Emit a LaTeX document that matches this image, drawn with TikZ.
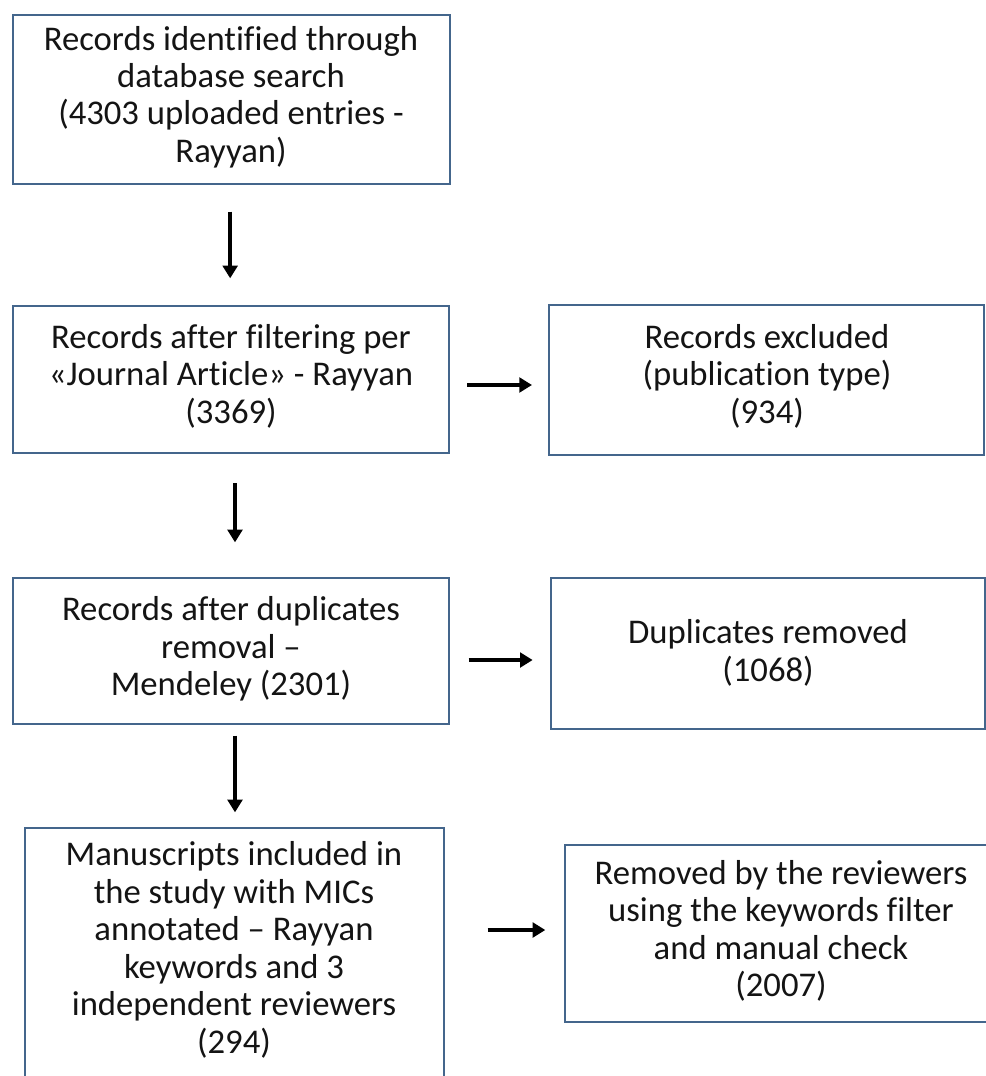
\documentclass[tikz,border=0pt]{standalone}
\usepackage{fontspec}
\setmainfont{Carlito}[Ligatures={NoCommon,NoContextual}]
\usetikzlibrary{arrows.meta,fit}
\definecolor{boxline}{RGB}{68,102,140}
\definecolor{txt}{RGB}{20,20,20}
\tikzset{
  box/.style={draw=boxline, line width=1.5pt, inner sep=0pt, rectangle},
  lbl/.style={align=center, text=txt, inner sep=0pt, font=\fontsize{26}{28.1}\selectfont},
  arr/.style={line width=3pt, -{Triangle[width=11pt,length=9.5pt]}, black}
}
\begin{document}
\begin{tikzpicture}[x=0.75pt,y=-0.75pt]
\useasboundingbox (0,0) rectangle (986,1076);
\clip (0,0) rectangle (986,1076);
\fill[white] (0,0) rectangle (986,1076);
% boxes
\node[box, fit={(13,15) (450,184)}] (b1) {};
\node[box, fit={(13,306) (449,453)}] (b2) {};
\node[box, fit={(549,305) (984,455)}] (b3) {};
\node[box, fit={(13,578) (449,724)}] (b4) {};
\node[box, fit={(551,578) (985,729)}] (b5) {};
\node[box, fit={(25,828) (444,1095)}] (b6) {};
\node[box, fit={(565,845) (1000,1022)}] (b7) {};
% texts
\node[lbl] (t1) at (231,97) {Records identified through\\database search\\(4303 uploaded entries -\\Rayyan)};
\node[lbl] (t2) at (231,376) {Records after filtering per\\«Journal Article» - Rayyan\\(3369)};
\node[lbl] (t3) at (767,376) {Records excluded\\(publication type)\\(934)};
\node[lbl] (t4) at (231,649) {Records after duplicates\\removal –\\Mendeley (2301)};
\node[lbl] (t5) at (768,653) {Duplicates removed\\(1068)};
\node[lbl] (t6) at (234,950) {Manuscripts included in\\the study with MICs\\annotated – Rayyan\\keywords and 3\\independent reviewers\\(294)};
\node[lbl] (t7) at (781,931) {Removed by the reviewers\\using the keywords filter\\and manual check\\(2007)};
% connectors
\draw[arr, shorten <=20, shorten >=20] ([xshift=-1]b1.south) -- ([xshift=-1]b1.south |- b2.north);
\draw[arr, shorten <=22, shorten >=26] ([xshift=3]b2.south) -- ([xshift=3]b2.south |- b4.north);
\draw[arr, shorten <=8, shorten >=11] ([xshift=3]b4.south) -- ([xshift=3]b4.south |- b6.north);
\draw[arr, shorten <=13, shorten >=12] (b2.east |- 0,385) -- (b3.west |- 0,385);
\draw[arr, shorten <=14, shorten >=13] (b4.east |- 0,660) -- (b5.west |- 0,660);
\draw[arr, shorten <=32, shorten >=14] (b6.east |- 0,930) -- (b7.west |- 0,930);
\end{tikzpicture}
\end{document}
